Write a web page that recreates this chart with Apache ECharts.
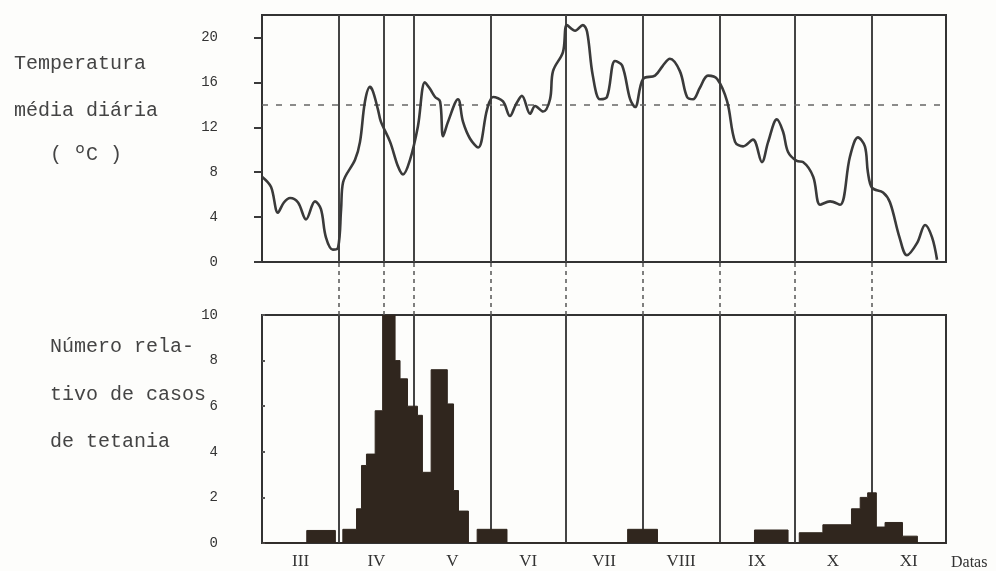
<!DOCTYPE html>
<html>
<head>
<meta charset="utf-8">
<script src="https://cdn.jsdelivr.net/npm/echarts@6/dist/echarts.min.js"></script>
<style>
html,body{margin:0;padding:0;background:#fdfdfb;}
#chart{width:996px;height:571px;}
</style>
</head>
<body>
<div id="chart"></div>
<script>
// ---- data ----
const monthNames = ['III', 'IV', 'V', 'VI', 'VII', 'VIII', 'IX', 'X', 'XI'];
const monthLengths = [31, 30, 31, 30, 31, 31, 30, 31, 30];
const markerDays = [49];

const tempDays = [0, 3.6, 6.4, 8.8, 11.3, 14.5, 17.7, 21.3, 23.7, 25.7, 28.5, 30.6, 31.8, 32.6, 37.4, 39.4, 41.4, 43.4, 44.6, 46.6, 47.8, 51.5, 54.7, 56.7, 59.5, 62.7, 65.5, 67.6, 69.6, 71.6, 72.8, 74.8, 78.8, 80.8, 83.6, 86.9, 90.5, 92.9, 96.9, 99.7, 102, 104.5, 107.8, 109.8, 113, 115.8, 117, 121, 122.6, 125.9, 129, 130.7, 133, 135.9, 138.7, 141.9, 144.8, 148, 150, 153.2, 158, 161.2, 164, 168, 170.9, 173.3, 176, 179.3, 183, 187, 190.2, 193.4, 197.4, 201, 203.5, 207, 209.5, 211.5, 215, 217.5, 221.6, 224.4, 228.4, 232.4, 236.4, 239.6, 242.4, 243.6, 245.3, 249.7, 252.5, 256.3, 259.3, 263.4, 266.6, 269.4, 271.4];
const tempValues = [7.6, 6.7, 4.4, 5.3, 5.7, 5.3, 3.8, 5.4, 4.7, 2.2, 1.1, 1.3, 4.7, 7.1, 9.1, 10.7, 14.3, 15.6, 15.2, 13.6, 12.5, 10.7, 8.5, 7.8, 9.1, 12.1, 16.0, 15.4, 14.7, 14.3, 11.2, 12.5, 14.5, 12.5, 11.0, 10.2, 13.6, 14.7, 14.3, 13.0, 14.0, 14.8, 13.2, 13.9, 13.4, 14.5, 17.0, 18.7, 21.1, 20.6, 21.1, 20.5, 16.6, 14.5, 14.7, 17.9, 17.5, 14.5, 13.8, 16.3, 16.6, 17.5, 18.1, 17.0, 14.7, 14.5, 15.5, 16.6, 16.3, 14.3, 10.7, 10.3, 10.9, 8.9, 10.7, 12.7, 11.6, 9.8, 9.0, 8.9, 7.6, 5.1, 5.4, 5.1, 9.4, 11.1, 10.3, 8.0, 6.6, 6.2, 5.3, 2.2, 0.6, 1.7, 3.3, 2.2, 0.2];
const tempRefLine = 14;
const tempTicks = [0, 4, 8, 12, 16, 20];

const caseDays = [0, 18, 29.5, 32.5, 38, 40, 42, 45.5, 48.5, 53.5, 55.5, 58.5, 62.5, 64.5, 68, 74.5, 77, 79, 83, 86.5, 98.5, 147, 159, 198, 211.5, 216, 225.5, 237, 240.5, 243.5, 247, 250.5, 257.5, 263.5, 275];
const caseValues = [0, 0.55, 0, 0.6, 1.5, 3.4, 3.9, 5.8, 10, 8.0, 7.2, 6.0, 5.6, 3.1, 7.6, 6.1, 2.3, 1.4, 0, 0.6, 0, 0.6, 0, 0.57, 0, 0.45, 0.8, 1.5, 2.0, 2.2, 0.7, 0.9, 0.3, 0, 0];
const caseTicks = [0, 2, 4, 6, 8, 10];

// ---- derived ----
const monthStarts = [];
let acc = 0;
monthLengths.forEach(l => { monthStarts.push(acc); acc += l; });
const totalDays = acc;
const monthMids = monthStarts.map((s, i) => s + monthLengths[i] / 2);
const dividers = monthStarts.slice(1).concat(markerDays).sort((a, b) => a - b);

const tempData = tempDays.map((d, i) => [d, tempValues[i]]);
const caseData = caseDays.map((d, i) => [d, caseValues[i]]);

const INK = '#3a3a3a';
const monoFont = 'Liberation Mono';
const leftFont = '20px "Liberation Mono"';

function vLines(type, width, color) {
  return dividers.map(d => ({ xAxis: d, lineStyle: { type: type, width: width, color: color } }));
}

const chart = echarts.init(document.getElementById('chart'), null, { renderer: 'canvas' });

const hiddenX = (gi) => ({
  type: 'value', gridIndex: gi, min: 0, max: totalDays,
  axisLine: { show: false }, axisTick: { show: false }, axisLabel: { show: false }, splitLine: { show: false }
});

chart.setOption({
  backgroundColor: '#fdfdfb',
  animation: false,
  grid: [
    { left: 262, width: 684, top: 15, height: 247, show: true, borderColor: '#333', borderWidth: 2, backgroundColor: 'transparent', outerBoundsMode: 'none' },
    { left: 262, width: 684, top: 262, height: 53, show: false, outerBoundsMode: 'none' },
    { left: 262, width: 684, top: 315, height: 228, show: true, borderColor: '#333', borderWidth: 2, backgroundColor: 'transparent', outerBoundsMode: 'none' }
  ],
  xAxis: [
    hiddenX(0),
    hiddenX(1),
    {
      type: 'value', gridIndex: 2, min: 0, max: totalDays,
      axisLine: { show: false }, axisTick: { show: false }, splitLine: { show: false },
      axisLabel: {
        customValues: monthMids,
        margin: 10,
        fontFamily: 'Liberation Serif', fontSize: 17, color: '#333',
        formatter: function (v) {
          let best = 0;
          monthMids.forEach((m, i) => { if (Math.abs(m - v) < Math.abs(monthMids[best] - v)) best = i; });
          return monthNames[best];
        }
      },
      name: 'Datas', nameLocation: 'end', nameGap: 5,
      nameTextStyle: { fontFamily: 'Liberation Serif', fontSize: 16, color: '#333', verticalAlign: 'top', padding: [12, 0, 0, 0] }
    }
  ],
  yAxis: [
    {
      type: 'value', gridIndex: 0, min: 0, max: 22, offset: 4,
      axisLine: { show: false },
      axisTick: { show: true, length: 8, customValues: tempTicks, lineStyle: { color: INK, width: 2 } },
      axisLabel: { customValues: tempTicks, margin: 40, fontFamily: monoFont, fontSize: 14, color: '#333' },
      splitLine: { show: false }
    },
    { type: 'value', gridIndex: 1, min: 0, max: 1, show: false },
    {
      type: 'value', gridIndex: 2, min: 0, max: 10, interval: 2,
      axisLine: { show: false },
      axisTick: { show: true, inside: true, length: 3, lineStyle: { color: '#555', width: 2 } },
      axisLabel: { margin: 44, fontFamily: monoFont, fontSize: 14, color: '#333' },
      splitLine: { show: false }
    }
  ],
  series: [
    {
      type: 'line', xAxisIndex: 0, yAxisIndex: 0, data: tempData,
      smooth: 0.35, showSymbol: false, z: 3,
      lineStyle: { color: INK, width: 2.6 },
      markLine: {
        silent: true, symbol: 'none', label: { show: false }, z: 1,
        data: vLines('solid', 2, '#444').concat([{ yAxis: tempRefLine, lineStyle: { type: [6, 8], width: 1.6, color: '#666' } }])
      }
    },
    {
      type: 'line', xAxisIndex: 1, yAxisIndex: 1, data: [[0, 0]], showSymbol: false,
      lineStyle: { width: 0 },
      markLine: {
        silent: true, symbol: 'none', label: { show: false },
        data: vLines([4, 4], 1.5, '#555')
      }
    },
    {
      type: 'line', xAxisIndex: 2, yAxisIndex: 2, data: [[0, 0]], showSymbol: false, z: 1,
      lineStyle: { width: 0 },
      markLine: {
        silent: true, symbol: 'none', label: { show: false }, z: 1,
        data: vLines('solid', 2, '#444')
      }
    },
    {
      type: 'line', xAxisIndex: 2, yAxisIndex: 2, data: caseData, step: 'end',
      showSymbol: false, z: 4,
      lineStyle: { color: '#30261e', width: 1 },
      areaStyle: { color: '#30261e', opacity: 1 }
    }
  ],
  graphic: [
    { type: 'text', left: 14, top: 54, style: { text: 'Temperatura', font: leftFont, fill: '#444' } },
    { type: 'text', left: 14, top: 101, style: { text: 'média diária', font: leftFont, fill: '#444' } },
    { type: 'text', left: 50, top: 145, style: { text: '( ºC )', font: leftFont, fill: '#444' } },
    { type: 'text', left: 50, top: 337, style: { text: 'Número rela-', font: leftFont, fill: '#444' } },
    { type: 'text', left: 50, top: 385, style: { text: 'tivo de casos', font: leftFont, fill: '#444' } },
    { type: 'text', left: 50, top: 432, style: { text: 'de tetania', font: leftFont, fill: '#444' } }
  ]
});
</script>
</body>
</html>
